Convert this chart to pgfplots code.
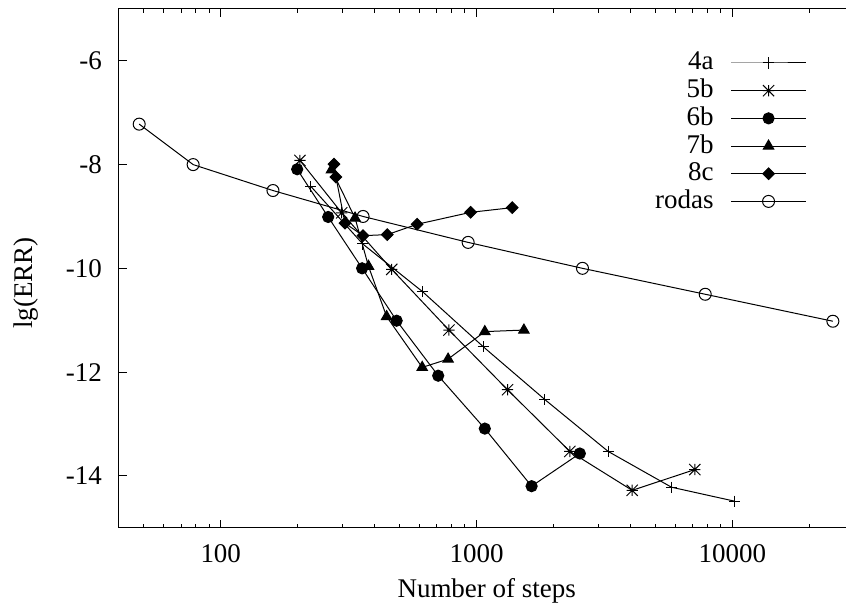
\documentclass[border=0pt]{standalone}
\usepackage{fontspec}
\setmainfont{Liberation Serif}
\usepackage{pgfplots}
\pgfplotsset{compat=1.18}
\pgfdeclareplotmark{gpstar}{%
  \pgfpathmoveto{\pgfqpoint{-\pgfplotmarksize}{0pt}}\pgfpathlineto{\pgfqpoint{\pgfplotmarksize}{0pt}}%
  \pgfpathmoveto{\pgfqpoint{0pt}{-\pgfplotmarksize}}\pgfpathlineto{\pgfqpoint{0pt}{\pgfplotmarksize}}%
  \pgfpathmoveto{\pgfqpoint{-\pgfplotmarksize}{-\pgfplotmarksize}}\pgfpathlineto{\pgfqpoint{\pgfplotmarksize}{\pgfplotmarksize}}%
  \pgfpathmoveto{\pgfqpoint{-\pgfplotmarksize}{\pgfplotmarksize}}\pgfpathlineto{\pgfqpoint{\pgfplotmarksize}{-\pgfplotmarksize}}%
  \pgfusepathqstroke}
\pgfdeclareplotmark{gpdiamond}{%
  \pgfpathmoveto{\pgfqpoint{0pt}{\pgfplotmarksize}}%
  \pgfpathlineto{\pgfqpoint{\pgfplotmarksize}{0pt}}%
  \pgfpathlineto{\pgfqpoint{0pt}{-\pgfplotmarksize}}%
  \pgfpathlineto{\pgfqpoint{-\pgfplotmarksize}{0pt}}%
  \pgfpathclose\pgfusepathqfillstroke}
\begin{document}
\begin{tikzpicture}
\begin{axis}[
  scale only axis, width=368pt, height=259.5pt,
  xmode=log, log basis x=10,
  xmin=40, xmax=30000, ymin=-15, ymax=-5,
  xtick={100,1000,10000}, xticklabels={100,1000,10000},
  minor xtick={50,60,70,80,90,200,300,400,500,600,700,800,900,2000,3000,4000,5000,6000,7000,8000,9000,20000},
  ytick={-14,-12,-10,-8,-6}, yticklabels={-14,-12,-10,-8,-6},
  tick align=inside, xtick pos=both, ytick pos=left,
  major tick length=3.85pt, minor tick length=2pt,
  axis line style={line width=0.5pt},
  every tick/.style={black, line width=0.5pt},
  font=\fontsize{13.5}{16}\selectfont,
  yticklabel style={xshift=-5pt},
  xticklabel style={yshift=-4.85pt},
  xlabel={Number of steps}, ylabel={lg(ERR)},
  xlabel style={at={(axis description cs:0.5,0)}, anchor=north, yshift=-22pt},
  ylabel style={at={(axis description cs:-0.1264,0.472)}, anchor=center},
  every axis plot/.append style={black, line width=0.5pt, mark options={solid, line width=0.5pt}},
  legend plot pos=right, legend cell align=right,
  legend style={at={(axis description cs:0.9344,0.919)}, anchor=north east,
    draw=none, fill=none, inner sep=0pt, outer sep=0pt, row sep=1.85pt, column sep=8.65pt,
    nodes={inner sep=0pt, text height=9.5pt, text depth=2.5pt},
    font=\fontsize{13.5}{16}\selectfont},
  legend image code/.code={\draw[mark repeat=2,mark phase=2] plot coordinates {(0pt,0pt) (18.6pt,0pt) (37.2pt,0pt)};},
]
\addplot[mark=+, mark size=2.8pt] coordinates {
  (225,-8.42) (359,-9.53) (615,-10.45) (1061,-11.51) (1849,-12.53) (3268,-13.53) (5780,-14.22) (10210,-14.49)};
\addlegendentry{4a}
\addplot[mark=gpstar, mark size=2.8pt] coordinates {
  (204,-7.92) (297,-8.93) (466,-10.02) (780,-11.19) (1321,-12.34) (2315,-13.53) (4056,-14.28) (7130,-13.88)};
\addlegendentry{5b}
\addplot[mark=*, mark size=2.8pt] coordinates {
  (199,-8.09) (263,-9.01) (357,-10.0) (487,-11.01) (708,-12.07) (1077,-13.09) (1641,-14.2) (2533,-13.57)};
\addlegendentry{6b}
\addplot[mark=triangle*, mark size=3pt] coordinates {
  (271,-8.10) (335,-9.03) (378,-9.96) (445,-10.93) (613,-11.91) (774,-11.75) (1077,-11.22) (1531,-11.19)};
\addlegendentry{7b}
\addplot[mark=gpdiamond, mark size=2.9pt] coordinates {
  (277,-7.99) (282,-8.24) (306,-9.13) (360,-9.37) (448,-9.35) (586,-9.15) (948,-8.92) (1378,-8.83)};
\addlegendentry{8c}
\addplot[mark=o, mark size=3pt] coordinates {
  (48,-7.22) (78,-8.0) (160,-8.5) (360,-9.0) (927,-9.5) (2594,-10.0) (7830,-10.5) (24700,-11.02)};
\addlegendentry{rodas}
\coordinate (R) at (axis cs:27800,-15);
\end{axis}
\coordinate (T) at (R |- current axis.north east);
\pgfresetboundingbox
\path[use as bounding box] ([shift={(-59.5pt,-43.5pt)}]current axis.south west) rectangle ([yshift=4.5pt]T);
\end{tikzpicture}
\end{document}
